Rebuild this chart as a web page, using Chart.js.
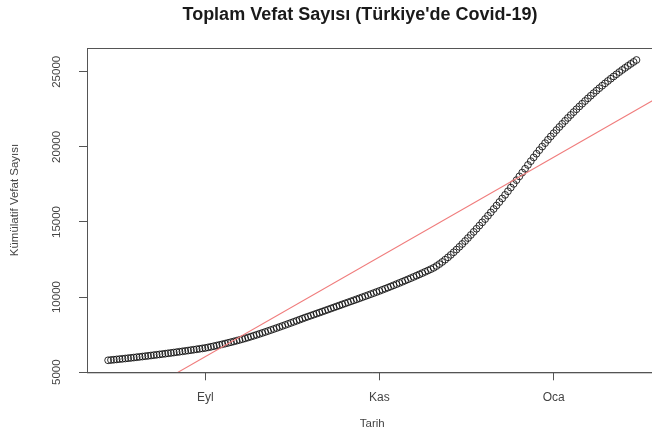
<!DOCTYPE html>
<html><head><meta charset="utf-8">
<script src="https://cdn.jsdelivr.net/npm/chart.js@4/dist/chart.umd.min.js"></script>
<style>
html,body{margin:0;padding:0;background:#fff;overflow:hidden;width:652px;height:441px}
#wrap{width:662px;height:441px;position:relative}
</style></head>
<body><div id="wrap"><canvas id="c" width="662" height="441"></canvas></div>
<script>
// ---- data (daily cumulative deaths) ----
const startDate = '2020-07-29';
const jul2020 = [5790, 5809, 5828];
const aug2020 = [5848, 5868, 5888, 5909, 5930, 5951, 5973, 5995, 6017, 6040, 6063, 6086, 6109, 6133, 6157, 6181, 6205, 6230, 6255, 6280, 6306, 6332, 6358, 6385, 6412, 6439, 6467, 6495, 6523, 6552, 6581];
const sep2020 = [6610, 6648, 6688, 6729, 6771, 6814, 6858, 6903, 6949, 6996, 7044, 7094, 7145, 7197, 7251, 7307, 7365, 7425, 7486, 7548, 7611, 7675, 7740, 7806, 7872, 7939, 8006, 8074, 8142, 8211];
const oct2020 = [8280, 8350, 8420, 8491, 8562, 8634, 8700, 8766, 8833, 8900, 8967, 9034, 9102, 9170, 9238, 9306, 9374, 9442, 9510, 9578, 9646, 9714, 9782, 9850, 9919, 9988, 10057, 10126, 10196, 10266, 10337];
const nov2020 = [10409, 10482, 10556, 10631, 10707, 10784, 10862, 10940, 11019, 11099, 11180, 11261, 11343, 11426, 11510, 11595, 11681, 11768, 11857, 11948, 12068, 12198, 12338, 12488, 12646, 12811, 12983, 13161, 13346, 13536];
const dec2020 = [13731, 13931, 14134, 14340, 14549, 14761, 14976, 15194, 15415, 15639, 15866, 16096, 16329, 16565, 16804, 17046, 17291, 17538, 17787, 18038, 18290, 18543, 18797, 19051, 19301, 19546, 19786, 20021, 20251, 20476, 20696];
const jan2021 = [20911, 21121, 21328, 21532, 21733, 21931, 22126, 22318, 22507, 22693, 22876, 23056, 23233, 23407, 23578, 23746, 23911, 24073, 24232, 24388, 24541, 24691, 24838, 24982, 25123, 25261, 25396, 25528, 25658, 25786];
const tickDates = ['2020-09-01', '2020-11-01', '2021-01-01'];
const tickLabels = ['Eyl', 'Kas', 'Oca'];
const yTickValues = [5000, 10000, 15000, 20000, 25000];
const titleText = "Toplam Vefat Sayısı (Türkiye'de Covid-19)";
const xTitle = 'Tarih';
const yTitle = 'Kümülatif Vefat Sayısı';

// ---- build ----
const deaths = [].concat(jul2020, aug2020, sep2020, oct2020, nov2020, dec2020, jan2021);
const DAY = 86400000;
const dayNum = s => Date.parse(s + 'T00:00:00Z') / DAY;
const x0 = dayNum(startDate);
const pts = deaths.map((v, i) => ({x: x0 + i, y: v}));

// R-style 4% axis padding
const xs = pts.map(p => p.x), ys = pts.map(p => p.y);
const xLo = Math.min(...xs), xHi = Math.max(...xs);
const yLo = Math.min(...ys), yHi = Math.max(...ys);
const xMin = xLo - 0.04 * (xHi - xLo), xMax = xHi + 0.04 * (xHi - xLo);
const yMin = yLo - 0.04 * (yHi - yLo), yMax = yHi + 0.04 * (yHi - yLo);

// least-squares fit (abline(lm(...)))
const n = pts.length;
let sx = 0, sy = 0, sxx = 0, sxy = 0;
pts.forEach(p => { sx += p.x; sy += p.y; sxx += p.x * p.x; sxy += p.x * p.y; });
const b = (n * sxy - sx * sy) / (n * sxx - sx * sx);
const a = (sy - b * sx) / n;
const fit = [{x: xMin, y: a + b * xMin}, {x: xMax, y: a + b * xMax}];

const FONT = "'Liberation Sans', Arial, Helvetica, sans-serif";
const AX = '#555';

const frameAndTitles = {
  id: 'frameAndTitles',
  afterDraw(chart) {
    const {ctx, chartArea: c} = chart;
    ctx.save();
    ctx.strokeStyle = AX; ctx.lineWidth = 1;
    ctx.strokeRect(Math.round(c.left) + 0.5, Math.round(c.top) + 0.5, c.right - c.left, c.bottom - c.top);
    // main title
    ctx.fillStyle = '#1a1a1a';
    ctx.font = "bold 18px " + FONT;
    ctx.textAlign = 'center';
    ctx.textBaseline = 'middle';
    ctx.fillText(titleText, 360, 15);
    // y axis title
    ctx.fillStyle = '#444';
    ctx.font = "11.5px " + FONT;
    ctx.translate(15, 200);
    ctx.rotate(-Math.PI / 2);
    ctx.fillText(yTitle, 0, 0);
    ctx.restore();
  }
};

new Chart(document.getElementById('c'), {
  type: 'scatter',
  data: {
    datasets: [
      {
        data: pts,
        pointStyle: 'circle',
        pointRadius: 3.4,
        pointHoverRadius: 3.4,
        borderWidth: 1,
        borderColor: 'rgba(10,10,10,0.85)',
        backgroundColor: 'rgba(0,0,0,0)',
        order: 2
      },
      {
        data: fit,
        showLine: true,
        pointRadius: 0,
        borderColor: '#f07c7c',
        borderWidth: 1.1,
        order: 1
      }
    ]
  },
  options: {
    responsive: false,
    animation: false,
    events: [],
    layout: {padding: {left: 0, right: 4, top: 48, bottom: 0}},
    plugins: {
      legend: {display: false},
      tooltip: {enabled: false},
      title: {display: false}
    },
    scales: {
      x: {
        type: 'linear',
        min: xMin, max: xMax,
        afterBuildTicks: s => { s.ticks = tickDates.map(d => ({value: dayNum(d)})); },
        afterFit: s => { s.height = 68.7; },
        ticks: {
          autoSkip: false, maxRotation: 0, minRotation: 0,
          padding: 10.5,
          color: '#444',
          font: {family: FONT, size: 12},
          callback: (v, i) => tickLabels[i]
        },
        grid: {display: true, drawOnChartArea: false, drawTicks: true, tickLength: 8, color: AX, tickColor: AX},
        border: {display: true, color: AX, width: 1},
        title: {display: true, text: xTitle, color: '#444', font: {family: FONT, size: 11.5}, padding: {top: 0, bottom: 10}}
      },
      y: {
        type: 'linear',
        min: yMin, max: yMax,
        afterBuildTicks: s => { s.ticks = yTickValues.map(v => ({value: v})); },
        afterFit: s => { s.width = 87; },
        ticks: {
          autoSkip: false, minRotation: 90, maxRotation: 90,
          crossAlign: 'center',
          padding: 6.5,
          color: '#444',
          font: {family: FONT, size: 11.5},
          callback: v => String(v)
        },
        grid: {display: true, drawOnChartArea: false, drawTicks: true, tickLength: 8, color: AX, tickColor: AX},
        border: {display: true, color: AX, width: 1},
        title: {display: false}
      }
    }
  },
  plugins: [frameAndTitles]
});
</script>
</body></html>
